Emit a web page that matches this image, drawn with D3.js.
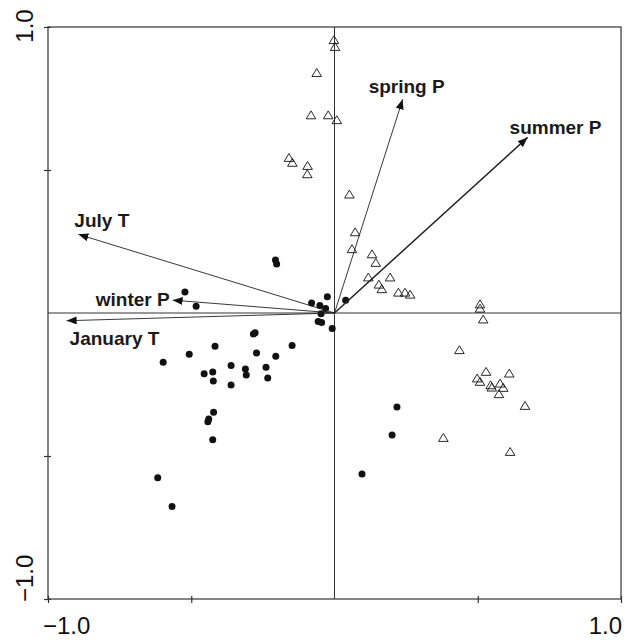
<!DOCTYPE html>
<html>
<head>
<meta charset="utf-8">
<script src="https://cdn.jsdelivr.net/npm/d3@7/dist/d3.min.js"></script>
<style>
  body{margin:0;background:#fff;}
  svg{display:block;font-family:"Liberation Sans",Arial,sans-serif;}
</style>
</head>
<body>
<div id="chart"></div>
<script>
// Ordinationsdiagramm: Proben (Punkte/Dreiecke) + Umweltvariablen als Pfeile

// Gruppe 1 (gefüllte Kreise): [Achse1, Achse2]
const circles = [
  [-0.206,0.185],[-0.202,0.171],[-0.522,0.073],[-0.483,0.024],[-0.080,0.035],
  [-0.051,0.026],[-0.025,0.057],[-0.031,0.016],[-0.047,-0.003],[-0.057,-0.030],
  [-0.045,-0.033],[-0.008,-0.054],[0.039,0.045],[-0.148,-0.114],[-0.277,-0.069],
  [-0.283,-0.073],[-0.417,-0.116],[-0.507,-0.144],[-0.598,-0.172],[-0.272,-0.140],
  [-0.205,-0.151],[-0.361,-0.184],[-0.311,-0.196],[-0.308,-0.217],[-0.239,-0.190],
  [-0.233,-0.227],[-0.455,-0.212],[-0.425,-0.206],[-0.423,-0.238],[-0.361,-0.252],
  [-0.422,-0.347],[-0.439,-0.371],[-0.442,-0.380],[-0.425,-0.443],[-0.617,-0.576],
  [-0.567,-0.677],[0.218,-0.329],[0.201,-0.427],[0.096,-0.563]
];

// Gruppe 2 (offene Dreiecke)
const triangles = [
  [-0.002,0.955],[0.002,0.931],[-0.062,0.840],[-0.082,0.692],[-0.022,0.692],
  [0.008,0.675],[-0.159,0.543],[-0.147,0.526],[-0.094,0.515],[-0.095,0.486],
  [0.052,0.415],[0.072,0.283],[0.061,0.224],[0.131,0.206],[0.144,0.176],
  [0.118,0.125],[0.194,0.125],[0.155,0.100],[0.165,0.084],[0.223,0.072],
  [0.246,0.072],[0.264,0.065],[0.508,0.031],[0.508,0.016],[0.519,-0.022],
  [0.436,-0.129],[0.529,-0.205],[0.610,-0.211],[0.498,-0.228],[0.508,-0.240],
  [0.545,-0.252],[0.549,-0.260],[0.578,-0.246],[0.589,-0.261],[0.574,-0.283],
  [0.665,-0.324],[0.380,-0.436],[0.613,-0.485]
];

// Umweltvariablen (Pfeilspitzen)
const varNames = ["summer P","spring P","July T","winter P","January T"];
const varScores = [[0.674,0.614],[0.238,0.747],[-0.894,0.275],[-0.565,0.045],[-0.935,-0.027]];

const tickValues = [-1,-0.5,0.5,1];
const tickLabels = ["\u22121.0","1.0"];

const W=633, H=640;
const L=48, R=621, T=27, B=599;
const x = d3.scaleLinear().domain([-1,1]).range([L,R]);
const y = d3.scaleLinear().domain([-1,1]).range([B,T]);

const svg = d3.select("#chart").append("svg").attr("width",W).attr("height",H);
svg.append("rect").attr("width",W).attr("height",H).attr("fill","#fff");

// Pfeilspitze
svg.append("defs").append("marker").attr("id","ah")
  .attr("viewBox","0 0 10 8").attr("refX",10).attr("refY",4)
  .attr("markerWidth",10).attr("markerHeight",8).attr("markerUnits","userSpaceOnUse")
  .attr("orient","auto")
  .append("path").attr("d","M0,0L10,4L0,8Z").attr("fill","#111");

// Rahmen
svg.append("rect").attr("x",L).attr("y",T).attr("width",R-L).attr("height",B-T)
  .attr("fill","none").attr("stroke","#444").attr("stroke-width",1.3);

// Ticks quer über den Rahmen
const ax = svg.append("g").attr("transform",`translate(0,${B-3})`)
  .call(d3.axisBottom(x).tickValues(tickValues).tickSize(7).tickFormat(""));
const ay = svg.append("g").attr("transform",`translate(${L+3},0)`)
  .call(d3.axisLeft(y).tickValues(tickValues).tickSize(7).tickFormat(""));
[ax,ay].forEach(g=>{ g.select(".domain").remove(); g.selectAll("line").attr("stroke","#333").attr("stroke-width",1.2); });

// Nullachsen
svg.append("line").attr("x1",x(0)).attr("x2",x(0)).attr("y1",T).attr("y2",B).attr("stroke","#333").attr("stroke-width",1);
svg.append("line").attr("x1",L).attr("x2",R).attr("y1",y(0)).attr("y2",y(0)).attr("stroke","#333").attr("stroke-width",1);

// Achsenbeschriftung
svg.append("text").attr("x",x(-1)-5).attr("y",634).attr("font-size",24).attr("fill","#111").text(tickLabels[0]);
svg.append("text").attr("x",x(1)+1).attr("y",634).attr("text-anchor","end").attr("font-size",24).attr("fill","#111").text(tickLabels[1]);
svg.append("text").attr("transform",`translate(33,${y(1)-1}) rotate(-90)`).attr("text-anchor","middle").attr("font-size",24).attr("fill","#111").text(tickLabels[1]);
svg.append("text").attr("transform",`translate(33,${y(-1)+3}) rotate(-90)`).attr("text-anchor","start").attr("font-size",24).attr("fill","#111").text(tickLabels[0]);

// Punkte
svg.append("g").selectAll("circle").data(circles).join("circle")
  .attr("cx",d=>x(d[0])).attr("cy",d=>y(d[1])).attr("r",3.5).attr("fill","#111");

svg.append("g").selectAll("path").data(triangles).join("path")
  .attr("transform",d=>`translate(${x(d[0])},${y(d[1])})`)
  .attr("d","M0,-4.2L4.8,3.7L-4.8,3.7Z")
  .attr("fill","none").attr("stroke","#111").attr("stroke-width",0.9);

// Pfeile
const labelPos = { // Versatz Label relativ zur Spitze
  "summer P":[-18,-3,"start"], "spring P":[-34,-6,"start"], "July T":[-4,-7,"start"],
  "winter P":[-3,6,"end"], "January T":[3,24,"start"]
};
varNames.forEach((n,i)=>{
  const [a,b]=varScores[i];
  svg.append("line").attr("x1",x(0)).attr("y1",y(0)).attr("x2",x(a)).attr("y2",y(b))
    .attr("stroke","#222").attr("stroke-width",n==="summer P"?1.5:0.9).attr("marker-end","url(#ah)");
  const [dx,dy,anc]=labelPos[n];
  svg.append("text").attr("x",x(a)+dx).attr("y",y(b)+dy).attr("text-anchor",anc)
    .attr("font-size",19).attr("font-weight","bold").attr("fill","#1a1a1a").text(n);
});
</script>
</body>
</html>
